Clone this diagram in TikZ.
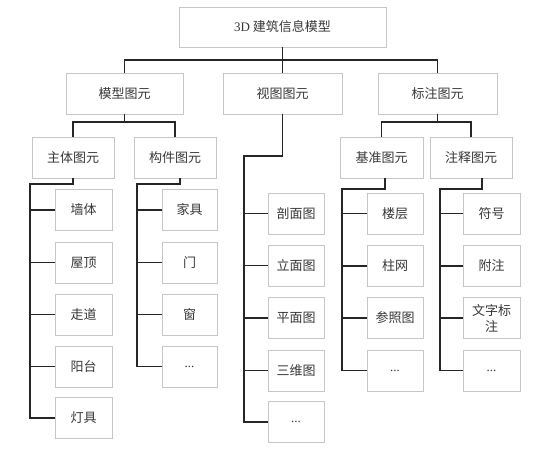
\documentclass[tikz,border=0pt]{standalone}
\usepackage{fontspec}
\setmainfont{Liberation Serif}
\newfontfamily\cjk{Noto Sans CJK SC}
\begin{document}
\begin{tikzpicture}[x=1pt,y=-1pt,
  box/.style={draw=black!22, line width=0.8pt, fill=white, text=black!78,
    font=\fontsize{13pt}{16pt}\selectfont\cjk, inner sep=0pt, align=center,
    minimum height=41pt},
  link/.style={draw=black!85, line width=1.3pt}]
\useasboundingbox (0,0) rectangle (554,450);
% root and level 2
\node[box, minimum width=207pt, minimum height=40pt] (root) at (282.5,27) {{\rmfamily 3D} 建筑信息模型};
\node[box, minimum width=117pt] (m) at (124.5,93.5) {模型图元};
\node[box, minimum width=119pt] (v) at (282.5,93.5) {视图图元};
\node[box, minimum width=119pt] (b) at (437.5,93.5) {标注图元};
% level 3
\node[box, minimum width=82pt] (zt) at (73,157.5) {主体图元};
\node[box, minimum width=82pt] (gj) at (175,157.5) {构件图元};
\node[box, minimum width=83pt] (jz) at (381.5,157.5) {基准图元};
\node[box, minimum width=82pt] (zs) at (471,157.5) {注释图元};
% leaves of zt
\node[box, minimum width=57pt] (zt1) at (83.5,210) {墙体};
\node[box, minimum width=57pt] (zt2) at (83.5,262.5) {屋顶};
\node[box, minimum width=57pt] (zt3) at (83.5,314.5) {走道};
\node[box, minimum width=57pt] (zt4) at (83.5,366.5) {阳台};
\node[box, minimum width=57pt] (zt5) at (83.5,418) {灯具};
% leaves of gj
\node[box, minimum width=55pt] (gj1) at (189.5,210) {家具};
\node[box, minimum width=55pt] (gj2) at (189.5,262.5) {门};
\node[box, minimum width=55pt] (gj3) at (189.5,314.5) {窗};
\node[box, minimum width=55pt] (gj4) at (189.5,366.5) {{\rmfamily ...}};
% leaves of v
\node[box, minimum width=56pt] (v1) at (296,213.5) {剖面图};
\node[box, minimum width=56pt] (v2) at (296,265.5) {立面图};
\node[box, minimum width=56pt] (v3) at (296,318) {平面图};
\node[box, minimum width=56pt] (v4) at (296,370.5) {三维图};
\node[box, minimum width=56pt] (v5) at (296,422) {{\rmfamily ...}};
% leaves of jz
\node[box, minimum width=56pt] (jz1) at (395,213.5) {楼层};
\node[box, minimum width=56pt] (jz2) at (395,266) {柱网};
\node[box, minimum width=56pt] (jz3) at (395,318) {参照图};
\node[box, minimum width=56pt] (jz4) at (395,370.5) {{\rmfamily ...}};
% leaves of zs
\node[box, minimum width=57pt] (zs1) at (491.5,213.5) {符号};
\node[box, minimum width=57pt] (zs2) at (491.5,266) {附注};
\node[box, minimum width=57pt] (zs3) at (491.5,318) {文字标\\注};
\node[box, minimum width=57pt] (zs4) at (491.5,370.5) {{\rmfamily ...}};
% rails
\coordinate (r0) at (282.5,60);
\coordinate (rm) at (124.5,122);
\coordinate (rb) at (437.5,122);
\coordinate (rv) at (244,156);
\coordinate (rzt) at (30,184);
\coordinate (rgj) at (137,184);
\coordinate (rjz) at (342,189);
\coordinate (rzs) at (440,189);
% connectors
\draw[link] (root.south) -- (v.north);
\draw[link] (m.north) -- (m.north |- r0) -- (b.north |- r0) -- (b.north);
\draw[link] (m.south) -- (rm);
\draw[link] (zt.north) -- (zt.north |- rm) -- (gj.north |- rm) -- (gj.north);
\draw[link] (b.south) -- (rb);
\draw[link] (jz.north) -- (jz.north |- rb) -- (zs.north |- rb) -- (zs.north);
\draw[link] (v.south) |- (rv) |- (v5.west);
\foreach \i in {1,...,4} \draw[link] (rv |- v\i.west) -- (v\i.west);
\draw[link] (zt.south) |- (rzt) |- (zt5.west);
\foreach \i in {1,...,4} \draw[link] (rzt |- zt\i.west) -- (zt\i.west);
\draw[link] ([xshift=5pt]gj.south) |- (rgj) |- (gj4.west);
\foreach \i in {1,...,3} \draw[link] (rgj |- gj\i.west) -- (gj\i.west);
\draw[link] ([xshift=3.5pt]jz.south) |- (rjz) |- (jz4.west);
\foreach \i in {1,...,3} \draw[link] (rjz |- jz\i.west) -- (jz\i.west);
\draw[link] ([xshift=11pt]zs.south) |- (rzs) |- (zs4.west);
\foreach \i in {1,...,3} \draw[link] (rzs |- zs\i.west) -- (zs\i.west);
\end{tikzpicture}
\end{document}
